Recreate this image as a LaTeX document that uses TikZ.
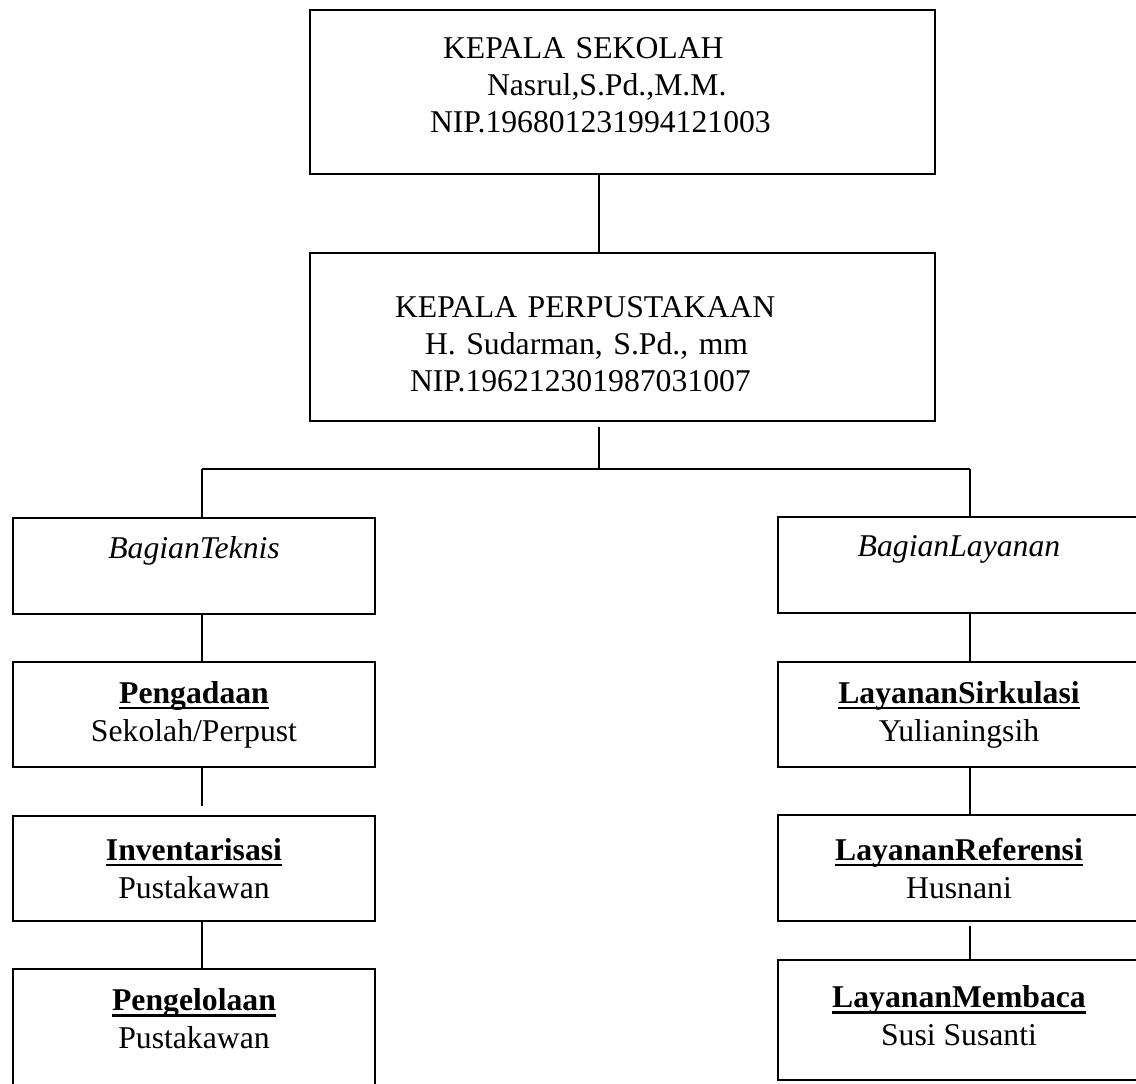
\documentclass[tikz,border=0pt]{standalone}
\usepackage{fontspec}
\setmainfont{Liberation Serif}
\usepackage{tikz}

% bold heading with a Word-like underline
\newcommand{\ulbf}[1]{\setbox0\hbox{\textbf{#1}}\rlap{\vrule width\wd0 height -3.5pt depth 6pt}\box0}

\begin{document}
\begin{tikzpicture}[
  x=1pt, y=-1pt,
  font=\fontsize{31.7}{38}\selectfont,
  headbox/.style={
    draw,
    line width=2pt,
    inner sep=0pt,
    minimum width=625pt,
    align=left,
    font=\fontsize{31.7}{37}\selectfont,
    text height=21pt
  },
  unitbox/.style={
    draw,
    line width=2pt,
    inner sep=0pt,
    minimum width=362pt,
    align=center
  },
  link/.style={
    line width=1.5pt
  }
]
  \path[use as bounding box] (0,0) rectangle (1136,1084);

  % ----------------------------------------------------
  % TOP: HEADS
  % ----------------------------------------------------
  \node[headbox, minimum height=164pt, text width=385pt, text depth=88pt] (kepsek) at (622.5,92) {
    \hspace*{13pt}KEPALA SEKOLAH\\
    \hspace*{57pt}Nasrul,S.Pd.,M.M.\\
    NIP.196801231994121003
  };

  \node[headbox, minimum height=168pt, text width=455pt, text depth=59pt] (kepperp) at (622.5,336.5) {
    KEPALA PERPUSTAKAAN\\
    \hspace*{30pt}H. Sudarman, S.Pd., mm\\
    \hspace*{15pt}NIP.196212301987031007
  };

  % ----------------------------------------------------
  % LEFT COLUMN: BAGIAN TEKNIS
  % ----------------------------------------------------
  \node[unitbox, minimum height=96pt] (teknis) at (194,566) {
    \textit{BagianTeknis}\\ \mbox{}
  };

  \node[unitbox, minimum height=105pt] (pengadaan) at (194,714.5) {
    \ulbf{Pengadaan}\\
    Sekolah/Perpust
  };

  \node[unitbox, minimum height=105pt] (inventaris) at (194,868.5) {
    \ulbf{Inventarisasi}\\
    Pustakawan
  };

  \node[unitbox, minimum height=120pt, text height=59pt, text depth=20pt] (pengelolaan) at (194,1029) {
    \ulbf{Pengelolaan}\\
    Pustakawan
  };

  % ----------------------------------------------------
  % RIGHT COLUMN: BAGIAN LAYANAN
  % ----------------------------------------------------
  \node[unitbox, minimum height=96pt] (layanan) at (959,565) {
    \textit{BagianLayanan}\\ \mbox{}
  };

  \node[unitbox, minimum height=105pt] (sirkulasi) at (959,714.5) {
    \ulbf{LayananSirkulasi}\\
    Yulianingsih
  };

  \node[unitbox, minimum height=106pt] (referensi) at (959,868) {
    \ulbf{LayananReferensi}\\
    Husnani
  };

  \node[unitbox, minimum height=120pt, text height=59pt, text depth=8pt] (membaca) at (959,1020) {
    \ulbf{LayananMembaca}\\
    Susi Susanti
  };

  % Connectors
  \coordinate (spine) at (599,469);
  \coordinate (lbranch) at (202,469);
  \coordinate (rbranch) at (970,469);

  \draw[link] (kepsek.south -| spine) -- (kepperp.north -| spine);
  \draw[link, shorten <=5pt] (kepperp.south -| spine) -- (spine);
  \draw[link] (lbranch) -- (rbranch);

  \draw[link] (lbranch) -- (teknis.north -| lbranch);
  \draw[link] (teknis.south -| lbranch) -- (pengadaan.north -| lbranch);
  \draw[link, shorten >=9pt] (pengadaan.south -| lbranch) -- (inventaris.north -| lbranch);
  \draw[link] (inventaris.south -| lbranch) -- (pengelolaan.north -| lbranch);

  \draw[link] (rbranch) -- (layanan.north -| rbranch);
  \draw[link] (layanan.south -| rbranch) -- (sirkulasi.north -| rbranch);
  \draw[link] (sirkulasi.south -| rbranch) -- (referensi.north -| rbranch);
  \draw[link, shorten <=4pt] (referensi.south -| rbranch) -- (membaca.north -| rbranch);

\end{tikzpicture}
\end{document}
